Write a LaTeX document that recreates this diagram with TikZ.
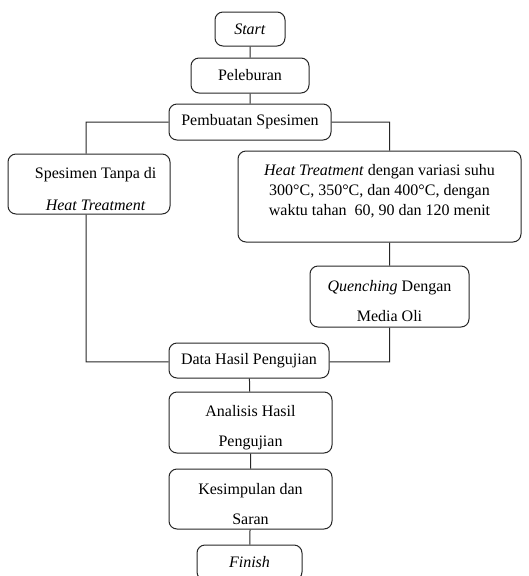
\documentclass[tikz,border=0pt]{standalone}
\usepackage{fontspec}
\setmainfont{Liberation Serif}
\usetikzlibrary{positioning}
\tikzstyle{every node}=[font=\fontsize{12}{15}\selectfont]
\tikzstyle{box}=[draw=black!85,rounded corners=6pt,line width=0.75pt,inner sep=0pt,align=center]
\tikzstyle{wide}=[font=\fontsize{12}{22.5}\selectfont]
\tikzstyle{link}=[draw=black!85,line width=0.75pt]
% struts to move text down / up inside a box
\newcommand{\lowr}{\rule{0pt}{15.5pt}}
\newcommand{\upr}{\rule[-10.5pt]{0pt}{10.5pt}}

\begin{document}
\begin{tikzpicture}[x=0.75pt,y=-0.75pt]
  \useasboundingbox (0,0) rectangle (529,576);
  \node[box,minimum width=52.5pt,minimum height=25.5pt]   (start) at (250,29)    {\textit{Start}};
  \node[box,minimum width=88.5pt,minimum height=26.25pt]  (peleb) at (250,75.5)  {Peleburan};
  \node[box,minimum width=121.5pt,minimum height=27pt]    (buat)  at (250,122)   {Pembuatan Spesimen};
  \node[box,wide,minimum width=121.5pt,minimum height=45pt] (tanpa) at (89,184)
        {\lowr\hspace*{10pt}Spesimen Tanpa di\\[1.5pt]\hspace*{10pt}\textit{Heat Treatment}};
  \node[box,minimum width=212.25pt,minimum height=68.25pt] (heat) at (379.5,196.5)
        {\textit{Heat Treatment} dengan variasi suhu\\300\textdegree C, 350\textdegree C, dan 400\textdegree C, dengan\\waktu tahan\ \ 60, 90 dan 120 menit\upr};
  \node[box,wide,minimum width=119.25pt,minimum height=45.75pt] (quench) at (389.5,296.5)
        {\lowr\textit{Quenching} Dengan\\Media Oli};
  \node[box,minimum width=120pt,minimum height=26.25pt]   (data)  at (249,360.5) {Data Hasil Pengujian};
  \node[box,wide,minimum width=122.25pt,minimum height=45.75pt] (anal) at (250.5,422.5)
        {\lowr Analisis Hasil\\Pengujian};
  \node[box,wide,minimum width=122.25pt,minimum height=45pt] (simpul) at (250.5,499)
        {\lowr Kesimpulan dan\\Saran};
  \node[box,minimum width=78.75pt,minimum height=26.25pt] (finish) at (249.5,562.5) {\textit{Finish}};

  \path[link] (start) -- (peleb)
    (peleb) -- (buat)
    (buat.west) -| ([xshift=-2.25pt]tanpa.north)
    (buat.east) -| (heat.north -| quench.north)
    (heat.south -| quench.north) -- (quench.north)
    ([xshift=-2.25pt]tanpa.south) |- ([yshift=-1.1pt]data.west)
    (quench.south) |- ([yshift=-1.1pt]data.east)
    (data) -- (anal)
    (anal) -- (simpul)
    (simpul) -- (finish);
\end{tikzpicture}
\end{document}
